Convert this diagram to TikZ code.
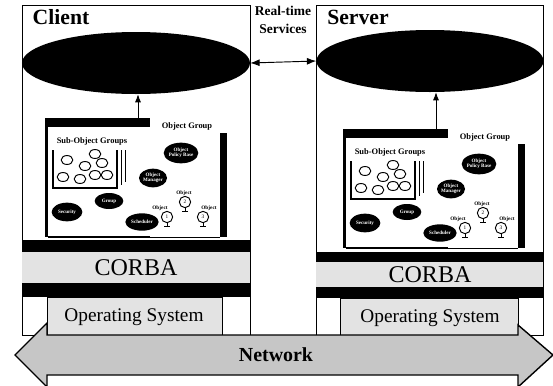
\documentclass[tikz,border=0pt]{standalone}
\usepackage{fontspec}
\setmainfont{Liberation Serif}
\usetikzlibrary{arrows.meta,shapes.geometric}

\tikzset{
  bigell/.style={ellipse, fill=black, inner sep=0pt, minimum height=1.86cm},
  blackell/.style={ellipse, fill=black, text=white, inner sep=0pt, align=center,
    font=\fontsize{4.3}{4.6}\selectfont\bfseries},
  subell/.style={ellipse, draw, thick, fill=white, inner sep=0pt,
    minimum width=0.35cm, minimum height=0.27cm},
  objc/.style={circle, draw, thick, fill=white, inner sep=0pt, minimum size=0.34cm,
    font=\fontsize{4.5}{5}\selectfont},
  objlbl/.style={font=\fontsize{4.5}{5}\selectfont\bfseries, inner sep=0pt},
  grplbl/.style={fill=white, inner sep=1pt, font=\fontsize{7.2}{8}\selectfont\bfseries},
  band/.style={fill=gray!22},
}

% one object group panel, #1 prefixes the node names
\newcommand{\objgroup}[1]{%
  \fill (45,118) rectangle (150,237);
  \fill (220,133) rectangle (227,237);
  \fill[white] (48,127) rectangle (220,236);
  \draw[thick] (48,237) -- (220,237);
  \node[grplbl] (#1lbl) at (187,126) {Object Group};
  \coordinate (#1top) at (138,118);
  % sub-object groups
  \node[grplbl] (#1sublbl) at (92,141) {Sub-Object Groups};
  \draw[thick] (125,150) -- (125,182);
  \draw[thick] (121,150) -- (121,185);
  \draw[very thick, fill=white] (53,150) -- (53,188) -- (117,188) -- (117,150);
  \foreach \p in {(67,160),(95,154),(85,166),(102,163),(63,177),(80,179),(95,175),(107,175)}
    \node[subell] at \p {};
  \node[blackell, minimum width=0.98cm, minimum height=0.62cm] (#1pol) at (181,153) {Object\\Policy Base};
  \node[blackell, minimum width=0.84cm, minimum height=0.56cm] (#1man) at (153,178) {Object\\Manager};
  \node[blackell, minimum width=0.86cm, minimum height=0.48cm] (#1grp) at (109,201) {Group};
  \node[blackell, minimum width=0.92cm, minimum height=0.56cm] (#1sec) at (67,212) {Security};
  \node[blackell, minimum width=1.0cm, minimum height=0.52cm] (#1sch) at (142,222) {Scheduler};
  % objects
  \node[objc] (#1o2) at (185,202) {2};
  \node[objc] (#1o1) at (167,217) {1};
  \node[objc] (#1o3) at (203,217) {3};
  \node[objlbl] at (184,193) {Object};
  \node[objlbl] at (160,208) {Object};
  \node[objlbl] at (209,208) {Object};
  \draw (#1o2.south) -- ++(0,3) ++(-3,0) -- ++(6,0);
  \draw (#1o1.south) -- ++(0,3) ++(-3,0) -- ++(6,0);
  \draw (#1o3.south) -- ++(0,3) ++(-3,0) -- ++(6,0);
}

\begin{document}
\begin{tikzpicture}[x=0.03cm, y=-0.03cm]
\useasboundingbox (0,0) rectangle (553,385);
%% client side
\draw[thick] (22,5) rectangle (250,335);
\node[font=\fontsize{18.5}{20}\selectfont\bfseries] (client) at (61,17) {Client};
\node[bigell, minimum width=6.84cm] (cell) at (136,63) {};
\objgroup{c}
\draw[thick, -{Latex[length=7pt]}] (ctop) -- (ctop |- cell.south);
\fill (22,240) rectangle (250,252);
\fill[band] (22,252) rectangle (250,283);
\fill (22,283) rectangle (250,297);
\node[font=\fontsize{20.5}{22}\selectfont] (ccorba) at (136,268) {CORBA};
\draw[band] (47,297) rectangle (222,335);
\node[font=\fontsize{16.5}{18}\selectfont] (cos) at (134,317) {Operating System};
%% server side
\draw[thick] (316,5) rectangle (543,335);
\node[font=\fontsize{18.5}{20}\selectfont\bfseries] (server) at (358,17) {Server};
\node[bigell, minimum width=6.81cm] (sell) at (430,61) {};
\begin{scope}[shift={(298,11)}]
\objgroup{s}
\end{scope}
\draw[thick, -{Latex[length=7pt]}] (stop) -- (stop |- sell.south);
\fill (316,252) rectangle (543,262);
\fill[band] (316,262) rectangle (543,287);
\fill (316,287) rectangle (543,298);
\node[font=\fontsize{20.5}{22}\selectfont] (scorba) at (430,275) {CORBA};
\draw[band] (340,298) rectangle (518,335);
\node[font=\fontsize{16.5}{18}\selectfont] (sos) at (430,318) {Operating System};
%% real-time link
\node[align=center, font=\fontsize{11.5}{15}\selectfont\bfseries] (rts) at (283,20) {Real-time\\Services};
\draw[thick, {Latex[length=8pt]}-{Latex[length=8pt]}] (cell.east) -- (sell.west);
%% network
\draw[very thick, fill=gray!45] (15,355) -- (47,323) -- (47,335) -- (518,335) -- (518,325)
  -- (553,355) -- (518,387) -- (518,375) -- (47,375) -- (47,387) -- cycle;
\node[font=\fontsize{17}{18}\selectfont\bfseries] (net) at (276,355) {Network};
\end{tikzpicture}
\end{document}
